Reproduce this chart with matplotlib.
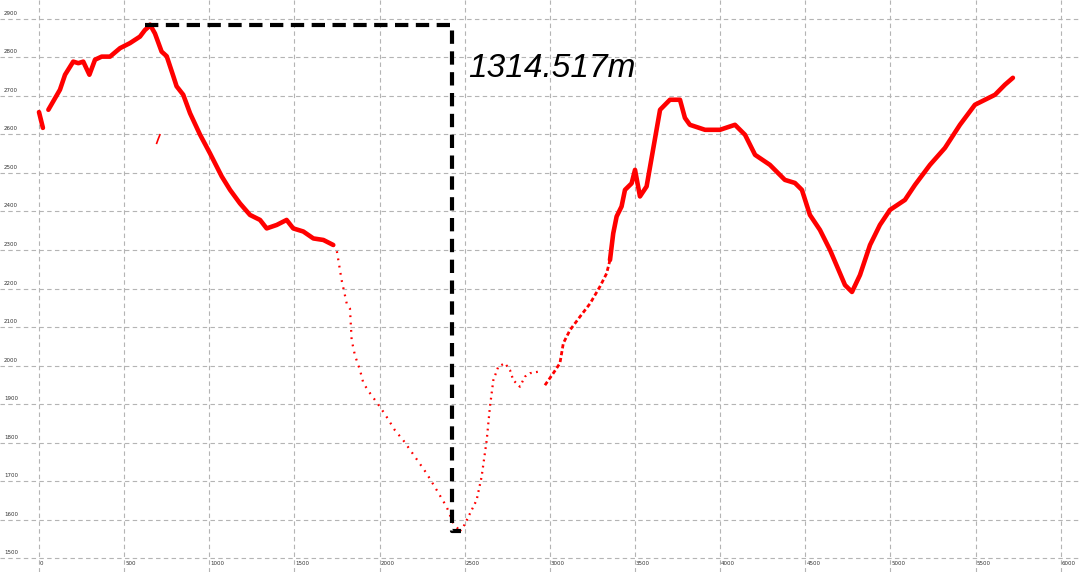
import matplotlib
matplotlib.use("Agg")
import matplotlib.pyplot as plt
import matplotlib.transforms as mtransforms

# ---- data (distance m, elevation m) ----
start_x = [0, 23]
start_y = [2658, 2617]

dense1_x = [55, 123, 153, 201, 231, 260, 296, 329, 368, 417, 476, 534, 593, 622, 640, 652,
            681, 720, 750, 789, 808, 847, 887, 945, 1004, 1073, 1122, 1180, 1239, 1298, 1337,
            1396, 1454, 1493, 1552, 1611, 1670, 1728]
dense1_y = [2664, 2716, 2755, 2789, 2785, 2789, 2755, 2794, 2802, 2802, 2824, 2837,
            2854, 2871, 2878, 2885, 2862, 2815, 2803, 2751, 2725, 2703, 2655, 2600, 2551, 2491,
            2456, 2421, 2391, 2378, 2356, 2365, 2378, 2356, 2348, 2330, 2326, 2313]

stray_x = [691, 700, 710]
stray_y = [2577, 2588, 2599]

sparse1_x = [1728, 1748, 1777, 1807, 1826, 1836, 1855, 1885, 1905, 1944, 2002, 2041, 2090,
             2139, 2208, 2276, 2335, 2394, 2433, 2472]
sparse1_y = [2313, 2300, 2222, 2161, 2148, 2066, 2027, 1988, 1954, 1928, 1893, 1867, 1832,
             1806, 1763, 1720, 1677, 1633, 1590, 1570.5]

sparse2_x = [2472, 2492, 2531, 2570, 2599, 2629, 2648, 2668, 2697, 2736, 2766, 2785, 2824,
             2853, 2883, 2932]
sparse2_y = [1570.5, 1581, 1616, 1651, 1711, 1806, 1893, 1962, 1997, 2006, 1988, 1962, 1945,
             1971, 1980, 1984]

mid_x = [2971, 3020, 3059, 3079, 3118, 3177, 3236, 3294, 3333, 3353]
mid_y = [1949, 1980, 2006, 2058, 2092, 2127, 2161, 2205, 2239, 2274]

dense2_x = [3353, 3372, 3392, 3421, 3441, 3480, 3500, 3529, 3568, 3647, 3705, 3764, 3793,
            3822, 3911, 3999, 4087, 4146, 4205, 4292, 4380, 4439, 4480, 4527, 4586, 4645,
            4733, 4774, 4821, 4880, 4938, 4997, 5085, 5144, 5232, 5320, 5408, 5496, 5614,
            5672, 5719]
dense2_y = [2274, 2343, 2387, 2413, 2456, 2473, 2508, 2439, 2465, 2664, 2690, 2690, 2643,
            2625, 2612, 2612, 2625, 2599, 2547, 2521, 2482, 2474, 2456, 2391, 2352, 2300,
            2209, 2191, 2235, 2313, 2365, 2404, 2430, 2469, 2521, 2565, 2625, 2677, 2703,
            2729, 2747]

# height-difference marker
peak_x, peak_y = 622, 2885
drop_x = 2427
low_end_x = 2478
low_y = 1570.5
label_text = "1314.517m"

x_ticks = [0, 500, 1000, 1500, 2000, 2500, 3000, 3500, 4000, 4500, 5000, 5500, 6000]
y_ticks = [1500, 1600, 1700, 1800, 1900, 2000, 2100, 2200, 2300, 2400, 2500, 2600, 2700,
           2800, 2900]

# ---- figure ----
fig = plt.figure(figsize=(10.8, 5.72), dpi=100)
ax = fig.add_axes([0, 0, 1, 1])
ax.set_xlim(-229, 6113)
ax.set_ylim(1464, 2949)
ax.axis("off")

grid_kw = dict(color="#b4b4b4", lw=0.8, ls=(0, (4, 3)), zorder=1)
for xv in x_ticks:
    ax.axvline(xv, **grid_kw)
for yv in y_ticks:
    ax.axhline(yv, **grid_kw)

red = "#ff0000"
line_kw = dict(color=red, lw=3.3, solid_capstyle="round", solid_joinstyle="round", zorder=3)
ax.plot(start_x, start_y, **line_kw)
ax.plot(dense1_x, dense1_y, **line_kw)
ax.plot(stray_x, stray_y, color=red, lw=1.2, zorder=3)
ax.plot(sparse1_x, sparse1_y, color=red, lw=1.6, ls=(0, (0.8, 2.5)), zorder=3)
ax.plot(sparse2_x, sparse2_y, color=red, lw=1.6, ls=(0, (0.8, 2.0)), zorder=3)
ax.plot(mid_x, mid_y, color=red, lw=2.0, ls=(0, (1.5, 1.0)), zorder=3)
ax.plot(dense2_x, dense2_y, **line_kw)

ax.plot([peak_x, drop_x, drop_x, low_end_x], [peak_y, peak_y, low_y, low_y],
        color="black", lw=3, ls=(0, (3.2, 1.8)), zorder=4)
ax.text(2519, 2749, label_text, fontsize=24, style="italic", family="Liberation Sans",
        ha="left", va="baseline", color="black", zorder=5)

up = mtransforms.offset_copy(ax.transData, fig=fig, x=0, y=3, units="dots")
for yv in y_ticks:
    ax.text(-205, yv, str(yv), fontsize=4, color="#333333", ha="left", va="bottom",
            transform=up, zorder=5)
down = mtransforms.offset_copy(ax.transData, fig=fig, x=1, y=-3, units="dots")
for xv in x_ticks:
    ax.text(xv, 1500, str(xv), fontsize=4, color="#333333", ha="left", va="top",
            transform=down, zorder=5)

fig.savefig("out.png", dpi=100)
